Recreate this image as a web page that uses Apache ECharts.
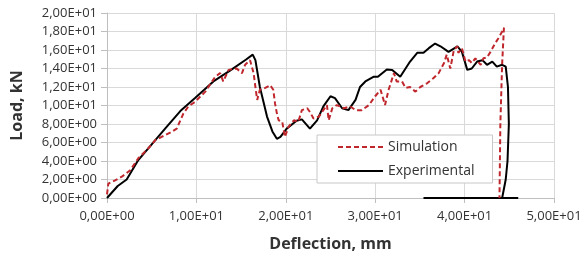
<!DOCTYPE html>
<html>
<head>
<meta charset="utf-8">
<script src="https://cdn.jsdelivr.net/npm/echarts@6/dist/echarts.min.js"></script>
<style>
  html, body { margin: 0; padding: 0; background: #fff; }
  #chart { width: 586px; height: 260px; }
</style>
</head>
<body>
<div id="chart"></div>
<script>
// experimental curve (black, solid)
var expX = [0, 1.2, 2.2, 3.5, 5.0, 6.5, 8.2, 9.85, 11.9, 13.8, 15.6, 16.3, 16.6, 17.1, 17.9, 18.5, 19.0, 19.4, 20.1, 21.2, 21.8, 22.7, 23.5, 24.2, 25.0, 25.5, 26.3, 27.0, 27.8, 28.3, 28.9, 29.8, 30.3, 31.3, 31.9, 32.8, 33.9, 34.7, 35.4, 36.0, 36.7, 37.3, 38.2, 39.2, 39.7, 40.3, 40.8, 41.4, 42.0, 42.5, 43.1, 43.6, 44.2, 44.6, 44.85, 44.95, 44.8, 44.6, 44.2, 46.0, 35.4];
var expY = [0, 1.3, 2.0, 4.1, 5.8, 7.5, 9.4, 10.8, 12.6, 13.8, 15.0, 15.5, 14.9, 12.0, 8.8, 7.2, 6.4, 6.6, 7.5, 8.35, 8.5, 7.5, 8.4, 9.9, 11.0, 10.8, 9.7, 9.5, 10.6, 12.0, 12.6, 13.1, 13.1, 13.9, 13.85, 13.1, 14.75, 15.7, 15.7, 16.2, 16.7, 16.4, 15.8, 16.4, 15.8, 13.85, 14.0, 14.75, 14.9, 14.4, 14.75, 14.2, 14.4, 14.2, 12.0, 8.0, 4.0, 2.0, 0, 0, 0];

// simulation curve (red, dashed)
var simX = [0, 0.15, 0.9, 1.65, 2.6, 3.5, 4.6, 5.4, 6.1, 7.25, 7.8, 8.55, 9.1, 9.85, 11.0, 12.1, 12.65, 13.0, 13.6, 14.5, 15.1, 15.45, 16.0, 16.4, 16.6, 16.8, 17.1, 17.7, 18.25, 18.6, 18.8, 19.0, 19.2, 19.6, 19.9, 20.3, 20.9, 21.4, 21.8, 22.4, 22.7, 23.1, 23.7, 24.2, 24.6, 24.8, 25.2, 25.7, 26.5, 27.2, 27.8, 28.5, 29.3, 30.0, 30.6, 31.1, 31.5, 32.1, 32.4, 33.0, 33.4, 33.9, 34.5, 35.05, 35.8, 36.5, 37.1, 37.7, 38.0, 38.4, 38.8, 39.2, 39.3, 39.7, 40.1, 40.5, 40.8, 41.2, 41.8, 42.1, 42.5, 42.9, 43.4, 43.8, 44.2, 44.4, 44.2, 44.0, 43.9];
var simY = [0.4, 1.56, 1.9, 2.3, 3.0, 4.3, 5.35, 6.25, 6.6, 7.15, 7.5, 9.15, 9.9, 10.4, 11.5, 13.1, 13.5, 12.6, 13.85, 14.0, 13.5, 14.4, 14.9, 13.5, 12.0, 10.6, 11.7, 11.9, 12.2, 11.7, 10.2, 9.15, 8.4, 8.25, 6.6, 7.7, 8.4, 8.25, 9.5, 9.7, 9.3, 8.6, 8.8, 9.5, 10.05, 8.4, 9.7, 10.05, 9.7, 9.9, 9.5, 9.5, 10.05, 11.0, 11.7, 10.05, 11.7, 13.5, 12.6, 12.6, 11.9, 12.0, 11.5, 12.0, 12.4, 12.95, 13.5, 14.6, 15.5, 14.0, 16.0, 16.4, 15.7, 16.2, 14.75, 14.9, 14.6, 15.1, 14.4, 15.1, 15.2, 15.8, 16.7, 17.3, 18.0, 18.4, 14.5, 8.0, 0];

function pairs(xs, ys) {
  var out = [];
  for (var i = 0; i < xs.length; i++) {
    out.push([xs[i], ys[i]]);
  }
  return out;
}

// Excel style scientific label: 2,00E+01
function sciLabel(v) {
  if (v === 0) return '0,00E+00';
  var e = Math.floor(Math.log10(Math.abs(v)) + 1e-9);
  var m = v / Math.pow(10, e);
  var es = (e < 0 ? '-' : '+') + (Math.abs(e) < 10 ? '0' : '') + Math.abs(e);
  return m.toFixed(2).replace('.', ',') + 'E' + es;
}

var font = 'Open Sans';
var chart = echarts.init(document.getElementById('chart'));
var option = {
  animation: false,
  textStyle: { fontFamily: font },
  grid: { left: 107, right: 32, top: 13, bottom: 62 },
  legend: {
    orient: 'vertical',
    left: 317,
    top: 135,
    padding: [5, 18, 5, 20],
    itemWidth: 45,
    itemHeight: 14,
    itemGap: 10,
    borderColor: '#c8c8c8',
    borderWidth: 1,
    backgroundColor: '#fff',
    // hide the symbol drawn on the legend line
    itemStyle: { color: 'rgba(0,0,0,0)', borderColor: 'rgba(0,0,0,0)', borderWidth: 0 },
    textStyle: { fontFamily: font, fontSize: 14, color: '#333' },
    data: ['Simulation', 'Experimental']
  },
  xAxis: {
    type: 'value',
    min: 0,
    max: 50,
    interval: 10,
    name: 'Deflection, mm',
    nameLocation: 'middle',
    nameGap: 38,
    nameTextStyle: { fontFamily: font, fontSize: 16, fontWeight: 'bold', color: '#333' },
    axisLine: { lineStyle: { color: '#bfbfbf' } },
    axisTick: { show: true, length: 5, lineStyle: { color: '#bfbfbf' } },
    axisLabel: { formatter: sciLabel, fontSize: 13, color: '#333', margin: 12 },
    splitLine: { show: true, lineStyle: { color: '#d9d9d9' } }
  },
  yAxis: {
    type: 'value',
    min: 0,
    max: 20,
    interval: 2,
    name: 'Load, kN',
    nameLocation: 'middle',
    nameGap: 82,
    nameTextStyle: { fontFamily: font, fontSize: 16, fontWeight: 'bold', color: '#333' },
    axisLine: { show: true, lineStyle: { color: '#bfbfbf' } },
    axisTick: { show: true, length: 6, lineStyle: { color: '#bfbfbf' } },
    axisLabel: { formatter: sciLabel, fontSize: 13, color: '#333', margin: 10 },
    splitLine: { show: true, lineStyle: { color: '#d9d9d9' } }
  },
  series: [
    {
      name: 'Simulation',
      type: 'line',
      data: pairs(simX, simY),
      showSymbol: false,
      symbol: 'none',
      z: 3,
      itemStyle: { color: '#c0272d' },
      lineStyle: { color: '#c0272d', width: 2, type: [5, 3] }
    },
    {
      name: 'Experimental',
      type: 'line',
      data: pairs(expX, expY),
      showSymbol: false,
      symbol: 'none',
      z: 2,
      itemStyle: { color: '#000' },
      lineStyle: { color: '#000', width: 2 }
    }
  ]
};
chart.setOption(option);
</script>
</body>
</html>
